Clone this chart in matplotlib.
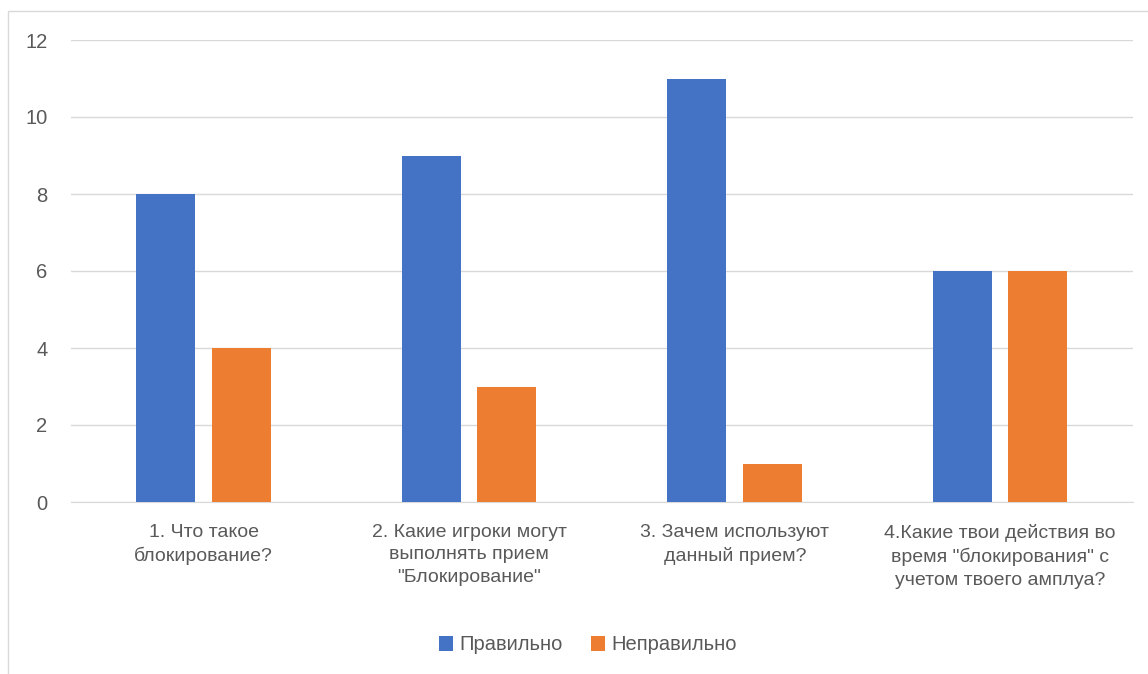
import numpy as np
import matplotlib.pyplot as plt
from matplotlib.patches import Rectangle

categories = [
    "1. Что такое\nблокирование?",
    "2. Какие игроки могут\nвыполнять прием\n\"Блокирование\"",
    "3. Зачем используют\nданный прием?",
    "4.Какие твои действия во\nвремя \"блокирования\" с\nучетом твоего амплуа?",
]
correct = [8, 9, 11, 6]
wrong = [4, 3, 1, 6]
series_names = ["Правильно", "Неправильно"]
yticks = [0, 2, 4, 6, 8, 10, 12]

blue = "#4472C4"
orange = "#ED7D31"
text_col = "#595959"
grid_col = "#D9D9D9"

plt.rcParams['font.family'] = ['Liberation Sans', 'DejaVu Sans']

W, H = 1148, 674
fig = plt.figure(figsize=(W / 100, H / 100), dpi=100)

# chart-area border (cropped at right and bottom in the original)
fig.patches.append(Rectangle((8 / W, -0.1), 1.2, 1 - 11 / H + 0.1,
                             transform=fig.transFigure, fill=False,
                             edgecolor=grid_col, linewidth=1))

ax = fig.add_axes([71 / W, 1 - 502 / H, (1133 - 71) / W, (502 - 40) / H])
x = np.arange(len(categories))
bw = 0.223
ax.bar(x - 0.143, correct, bw, color=blue, label=series_names[0], zorder=3)
ax.bar(x + 0.1415, wrong, bw, color=orange, label=series_names[1], zorder=3)

ax.set_xlim(-0.5, 3.5)
ax.set_ylim(0, 12)
ax.set_yticks(yticks)
ax.set_yticklabels([str(v) for v in yticks], color=text_col, fontsize=14.5)
ax.set_xticks(x)
ax.set_xticklabels(categories, color=text_col, fontsize=14, linespacing=1.45)
ax.tick_params(axis='both', length=0)
ax.tick_params(axis='x', pad=15.5)
ax.tick_params(axis='y', pad=17)
ax.grid(axis='y', color=grid_col, linewidth=1, zorder=0)
for s in ['top', 'right', 'left']:
    ax.spines[s].set_visible(False)
ax.spines['bottom'].set_color(grid_col)

leg = fig.legend(loc='center', bbox_to_anchor=(588 / W, 1 - 645 / H), ncol=2,
                 frameon=False, fontsize=14.5, handlelength=0.7, handleheight=0.7,
                 handletextpad=0.3, columnspacing=1.4)
for t in leg.get_texts():
    t.set_color(text_col)

fig.savefig("out.png", dpi=100, facecolor="white")
